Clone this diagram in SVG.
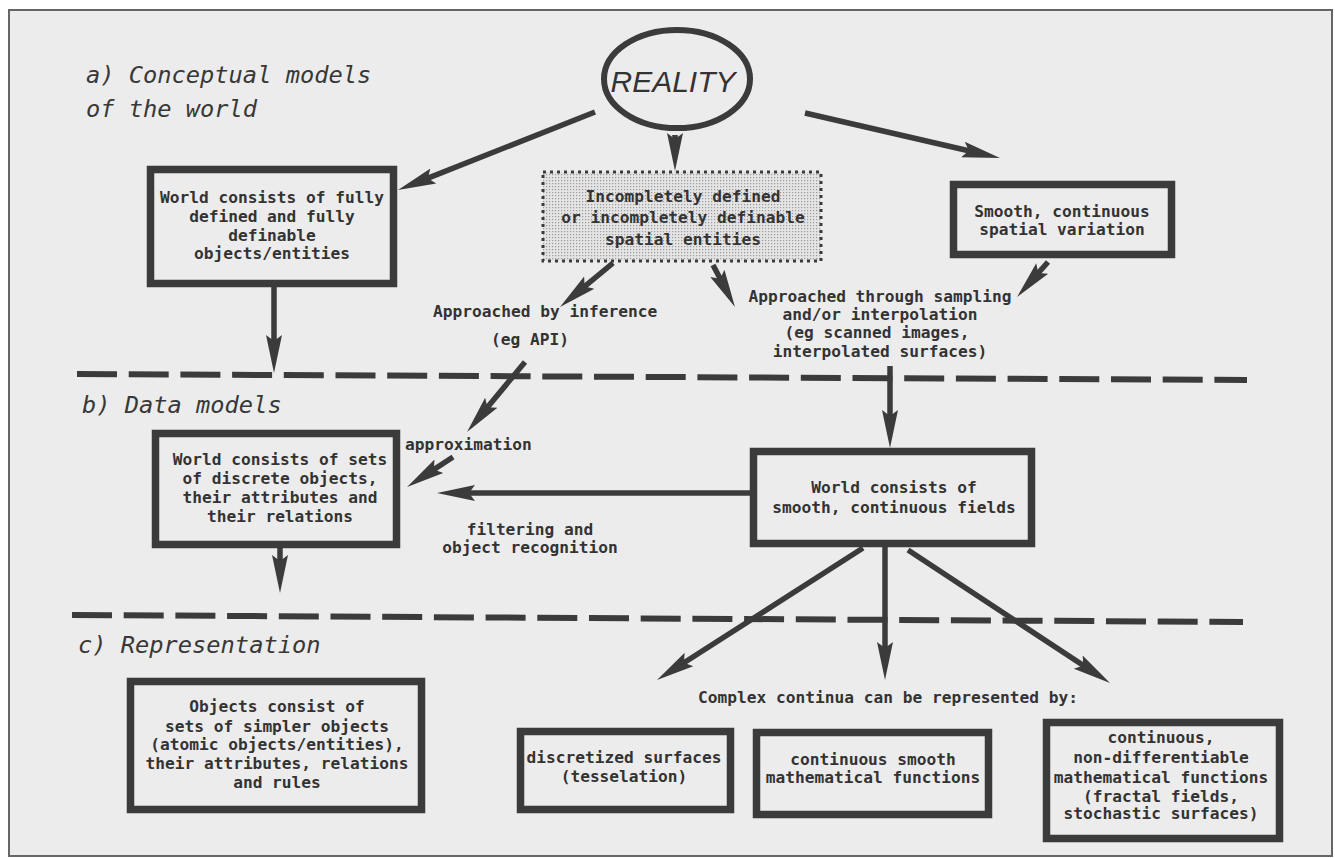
<svg xmlns="http://www.w3.org/2000/svg" width="1335" height="858" viewBox="0 0 1335 858">
<style>
.box{fill:none;stroke:#3b3b3b;stroke-width:7.5}
.t{font-family:"DejaVu Sans Mono","Liberation Mono",monospace;font-size:16.2px;font-weight:bold;fill:#333;text-anchor:middle}
.tl{font-family:"DejaVu Sans Mono","Liberation Mono",monospace;font-size:16.2px;font-weight:bold;fill:#333}
.sec{font-family:"DejaVu Sans Mono","Liberation Mono",monospace;font-size:23.7px;font-style:italic;fill:#383838}
.c{stroke:#3b3b3b;stroke-width:5.5;fill:none;marker-end:url(#ah)}
.dash{stroke:#3b3b3b;stroke-width:6;stroke-dasharray:40 11.7;fill:none}
</style>
<defs>
<marker id="ah" markerUnits="userSpaceOnUse" markerWidth="44" markerHeight="20" viewBox="0 -10 44 20" refX="18" refY="0" orient="auto">
<path d="M0,-8 L38,0 L0,8 L6,0 Z" fill="#3b3b3b"/>
</marker>
<pattern id="stip" width="3" height="3" patternUnits="userSpaceOnUse">
<rect width="3" height="3" fill="#e4e4e4"/>
<rect width="1.2" height="1.2" fill="#9a9a9a"/>
</pattern>
</defs>
<rect x="0" y="0" width="1335" height="858" fill="#ffffff"/>
<rect x="9" y="10" width="1323" height="846" fill="#ececec" stroke="#666" stroke-width="2"/>

<g id="section-labels">
<text class="sec" x="86" y="83">a) Conceptual models</text>
<text class="sec" x="86" y="117">of the world</text>
<text class="sec" x="82" y="413">b) Data models</text>
<text class="sec" x="78" y="653">c) Representation</text>
</g>

<g id="dividers">
<line class="dash" x1="77" y1="374" x2="1247" y2="380"/>
<line class="dash" x1="72" y1="615" x2="1243" y2="622"/>
</g>

<g id="connectors">
<line class="c" x1="595" y1="112" x2="416.6" y2="182.6"/>
<line class="c" x1="675" y1="135" x2="675" y2="151"/>
<line class="c" x1="805" y1="113" x2="980.5" y2="153.5"/>
<line class="c" x1="1048" y1="262" x2="1030.3" y2="282"/>
<line class="c" x1="613" y1="263" x2="575.4" y2="294.2"/>
<line class="c" x1="713" y1="265" x2="725.7" y2="289.3"/>
<line class="c" x1="274" y1="287" x2="274" y2="353"/>
<line class="c" x1="525" y1="362" x2="479.8" y2="416.6"/>
<line class="c" x1="453" y1="457" x2="423.8" y2="476.1"/>
<line class="c" x1="750" y1="493" x2="457" y2="493"/>
<line class="c" x1="890" y1="366" x2="890" y2="428"/>
<line class="c" x1="280" y1="548" x2="280" y2="573"/>
<line class="c" x1="863" y1="548" x2="673.8" y2="669.2"/>
<line class="c" x1="885" y1="547" x2="885" y2="660"/>
<line class="c" x1="908" y1="550" x2="1093.3" y2="672"/>
</g>

<g id="connector-labels">
<text class="tl" x="433" y="317">Approached by inference</text>
<text class="t" x="530" y="345">(eg API)</text>
<text class="t" x="880" y="302">Approached through sampling</text>
<text class="t" x="880" y="320">and/or interpolation</text>
<text class="t" x="877" y="338">(eg scanned images,</text>
<text class="t" x="880" y="357">interpolated surfaces)</text>
<text class="tl" x="405" y="450">approximation</text>
<text class="t" x="530" y="535">filtering and</text>
<text class="t" x="530" y="553">object recognition</text>
<text class="tl" x="698" y="703">Complex continua can be represented by:</text>
</g>

<g id="reality">
<ellipse cx="677" cy="79" rx="73" ry="49" fill="none" stroke="#3b3b3b" stroke-width="6"/>
<text x="673" y="92" font-family="'Liberation Sans',Arial,sans-serif" font-size="30" font-style="italic" fill="#333" text-anchor="middle">REALITY</text>
</g>

<g id="fully-defined">
<rect class="box" x="150.5" y="169.5" width="243" height="114"/>
<text class="t" x="272" y="203">World consists of fully</text>
<text class="t" x="272" y="222">defined and fully</text>
<text class="t" x="272" y="241">definable</text>
<text class="t" x="272" y="259">objects/entities</text>
</g>

<g id="incompletely-defined">
<rect x="543" y="172" width="278" height="89" fill="url(#stip)" stroke="#3b3b3b" stroke-width="3" stroke-dasharray="3 4"/>
<text class="t" x="683" y="202">Incompletely defined</text>
<text class="t" x="683" y="223">or incompletely definable</text>
<text class="t" x="683" y="245">spatial entities</text>
</g>

<g id="smooth-variation">
<rect class="box" x="953.5" y="184.5" width="218" height="70"/>
<text class="t" x="1062" y="217">Smooth, continuous</text>
<text class="t" x="1062" y="235">spatial variation</text>
</g>

<g id="discrete-objects">
<rect class="box" x="155.5" y="433.5" width="241" height="111"/>
<text class="t" x="280" y="465">World consists of sets</text>
<text class="t" x="280" y="484">of discrete objects,</text>
<text class="t" x="280" y="503">their attributes and</text>
<text class="t" x="280" y="522">their relations</text>
</g>

<g id="continuous-fields">
<rect class="box" x="753.5" y="451.5" width="278" height="92"/>
<text class="t" x="894" y="493">World consists of</text>
<text class="t" x="894" y="513">smooth, continuous fields</text>
</g>

<g id="simpler-objects">
<rect class="box" x="130.5" y="681.5" width="291" height="128"/>
<text class="t" x="277" y="712">Objects consist of</text>
<text class="t" x="277" y="732">sets of simpler objects</text>
<text class="t" x="277" y="750">(atomic objects/entities),</text>
<text class="t" x="277" y="769">their attributes, relations</text>
<text class="t" x="277" y="788">and rules</text>
</g>

<g id="discretized-surfaces">
<rect class="box" x="520.5" y="731.5" width="210" height="78"/>
<text class="t" x="624" y="763">discretized surfaces</text>
<text class="t" x="624" y="782">(tesselation)</text>
</g>

<g id="smooth-functions">
<rect class="box" x="756.5" y="732.5" width="232" height="82"/>
<text class="t" x="873" y="765">continuous smooth</text>
<text class="t" x="873" y="783">mathematical functions</text>
</g>

<g id="fractal-functions">
<rect class="box" x="1046.5" y="722.5" width="233" height="116"/>
<text class="t" x="1161" y="743">continuous,</text>
<text class="t" x="1161" y="763">non-differentiable</text>
<text class="t" x="1161" y="783">mathematical functions</text>
<text class="t" x="1161" y="802">(fractal fields,</text>
<text class="t" x="1161" y="819">stochastic surfaces)</text>
</g>
</svg>
